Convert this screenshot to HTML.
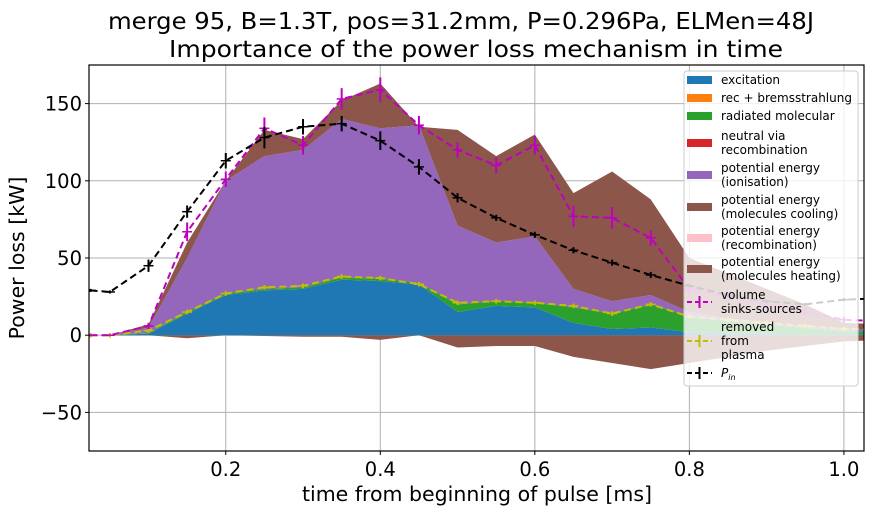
<!DOCTYPE html>
<html><head><meta charset="utf-8"><style>
body{margin:0;background:#fff;font-family:"DejaVu Sans","Liberation Sans",sans-serif}
svg text{font-family:"DejaVu Sans","Liberation Sans",sans-serif}
</style></head><body>
<svg id="chart" width="877" height="515" xmlns="http://www.w3.org/2000/svg">
<text x="461" y="29" font-size="23.5" text-anchor="middle" textLength="706" lengthAdjust="spacingAndGlyphs">merge 95, B=1.3T, pos=31.2mm, P=0.296Pa, ELMen=48J</text>
<text x="476" y="57" font-size="23.5" text-anchor="middle" textLength="614" lengthAdjust="spacingAndGlyphs">Importance of the power loss mechanism in time</text>
<g id="grid"></g><g id="areas"></g><g id="lines"></g><g id="axes"></g><g id="legend"></g>
<text x="477" y="501" font-size="20.5" text-anchor="middle">time from beginning of pulse [ms]</text>
<text transform="translate(24,258) rotate(-90)" font-size="20.5" text-anchor="middle">Power loss [kW]</text>
</svg>
<script>
const times=[0.025,0.05,0.1,0.15,0.2,0.25,0.3,0.35,0.4,0.45,0.5,0.55,0.6,0.65,0.7,0.75,0.8,0.85,0.9,0.95,1.0,1.05];
const excitation=[0,0,1,14,26,29,30,36,35,33,15,19,18,8,4,5,2,1,1,0.5,0.5,0.5];
const radiatedMol=[0,0,0.5,1,1,1,1,1.5,1.5,1,5,3,3,10,10,15,10,8,6,4,2,2];
const ionisation=[0,0,3.5,35,73,86,89,102.5,97.5,102,51,38,43,12,8,6,3,2,1,1.5,1.5,1.5];
const molCooling=[0,0,2,10,0,17,7,12,29,-1,62,56,66,62,84,62,35,29,22,14,4,3];
const molHeating=[0,0,0,-2,0,-0.5,-1,-1,-3,0,-8,-7,-7,-14,-18,-22,-18,-14,-10,-7,-4,-3];
const volume=[0,0,6,67,101,134,123,153,159,136,120,110,123,77,76,63,30,25,20,15,10,9];
const volumeErr=[0,0,2,6,5,7,6,7,8,6,5,5,6,7,7,5,4,3,3,2,2,2];
const removed=[0,0,3,15,27,31,32,38,37,33,21,22,21,19,14,20,12,10,8,6,4,4];
const pin=[29,28,45,80,113,128,135,137,126,109,89,76,65,55,47,39,32,26,22,20,23,24];
const pinErr=[1,1,4,4,5,7,5,5,6,5,3,2,2,2,2,2,1,1,1,1,1,1];
const xTicks=[0.2,0.4,0.6,0.8,1.0];
const yTicks=[-50,0,50,100,150];
const L=89,R=864,T=65,B=451,xmin=0.023,xmax=1.026,ymin=-75,ymax=175;
const X=v=>L+(v-xmin)/(xmax-xmin)*(R-L);
const Y=v=>B-(v-ymin)/(ymax-ymin)*(B-T);
const NS="http://www.w3.org/2000/svg";
function mk(tag,attrs,parent){const e=document.createElementNS(NS,tag);for(const k in attrs)e.setAttribute(k,attrs[k]);document.getElementById(parent).appendChild(e);return e;}
const defs=document.createElementNS(NS,'defs');defs.innerHTML=`<clipPath id="cp"><rect x="${L}" y="${T}" width="${R-L}" height="${B-T}"/></clipPath>`;document.getElementById('chart').prepend(defs);
document.getElementById('areas').setAttribute('clip-path','url(#cp)');
document.getElementById('lines').setAttribute('clip-path','url(#cp)');
xTicks.forEach(t=>{const g=mk('line',{x1:X(t),x2:X(t),y1:T,y2:B,stroke:'#b0b0b0','stroke-width':1},'grid');});
yTicks.forEach(t=>{const g=mk('line',{x1:L,x2:R,y1:Y(t),y2:Y(t),stroke:'#b0b0b0','stroke-width':1},'grid');});
function area(lo,hi,color,name){let d='M'+times.map((t,i)=>X(t)+','+Y(hi[i])).join('L');for(let i=times.length-1;i>=0;i--)d+='L'+X(times[i])+','+Y(lo[i]);const p=mk('path',{d:d+'Z',fill:color},'areas');}
const zero=times.map(()=>0);
const c1=excitation.slice();
const c2=c1.map((v,i)=>v+radiatedMol[i]);
const c3=c2.map((v,i)=>v+ionisation[i]);
const c4=c3.map((v,i)=>v+molCooling[i]);
const neg=molHeating.slice();
area(neg,zero,'#8c564b','area-molecules-heating');
area(zero,c1,'#1f77b4','area-excitation');
area(c1,c2,'#2ca02c','area-radiated-molecular');
area(c2,c3,'#9467bd','area-ionisation');
area(c3,c4,'#8c564b','area-molecules-cooling');
function series(vals,errs,color,name){const d='M'+times.map((t,i)=>X(t)+','+Y(vals[i])).join('L');const p=mk('path',{d:d,fill:'none',stroke:color,'stroke-width':2,'stroke-dasharray':'7,4'},'lines');
times.forEach((t,i)=>{const e=mk('line',{x1:X(t),x2:X(t),y1:Y(vals[i]+errs[i]),y2:Y(vals[i]-errs[i]),stroke:color,'stroke-width':2},'lines');
const c=mk('line',{x1:X(t)-5,x2:X(t)+5,y1:Y(vals[i]),y2:Y(vals[i]),stroke:color,'stroke-width':1.5},'lines');});}
series(removed,times.map(()=>1.5),'#bfbf00','removed-from-plasma');
series(volume,volumeErr,'#bf00bf','volume-sinks-sources');
series(pin,pinErr,'#000000','p-in');
const fr=mk('rect',{x:L,y:T,width:R-L,height:B-T,fill:'none',stroke:'#000','stroke-width':1.2},'axes');
xTicks.forEach(t=>{mk('line',{x1:X(t),x2:X(t),y1:B,y2:B+4,stroke:'#000'},'axes');const tx=mk('text',{x:X(t),y:B+25,'font-size':19.5,'text-anchor':'middle'},'axes');tx.textContent=t.toFixed(1);});
yTicks.forEach(t=>{mk('line',{x1:L-4,x2:L,y1:Y(t),y2:Y(t),stroke:'#000'},'axes');const tx=mk('text',{x:L-7,y:Y(t)+7,'font-size':19.5,'text-anchor':'end'},'axes');tx.textContent=(t<0?'\u2212'+(-t):t);});
const lg=mk('rect',{x:684,y:71,width:174,height:315,fill:'#fff','fill-opacity':0.8,stroke:'#ccc',rx:3},'legend');
const entries=[['patch','#1f77b4',['excitation'],80],['patch','#ff7f0e',['rec + bremsstrahlung'],98],['patch','#2ca02c',['radiated molecular'],116],['patch','#d62728',['neutral via','recombination'],143],['patch','#9467bd',['potential energy','(ionisation)'],175],['patch','#8c564b',['potential energy','(molecules cooling)'],207],['patch','#ffc0cb',['potential energy','(recombination)'],238],['patch','#8c564b',['potential energy','(molecules heating)'],269],['line','#bf00bf',['volume','sinks-sources'],302],['line','#bfbf00',['removed','from','plasma'],341],['line','#000',['P_in'],373]];
entries.forEach(([k,c,lines,cy])=>{
 if(k==='patch'){const r=mk('rect',{x:687,y:cy-4,width:25,height:8,fill:c},'legend');}
 else{mk('line',{x1:687,x2:712,y1:cy,y2:cy,stroke:c,'stroke-width':2,'stroke-dasharray':'5,3'},'legend');mk('line',{x1:699.5,x2:699.5,y1:cy-6,y2:cy+6,stroke:c,'stroke-width':2},'legend');}
 const n=lines.length,y0=cy-(n-1)*7+4;
 lines.forEach((s,j)=>{const t=mk('text',{x:721,y:y0+j*14,'font-size':12},'legend');if(s==='P_in'){t.innerHTML='<tspan font-style="italic">P</tspan><tspan font-style="italic" font-size="8" dy="3">in</tspan>';}else t.textContent=s;});
});
</script>
</body></html>
